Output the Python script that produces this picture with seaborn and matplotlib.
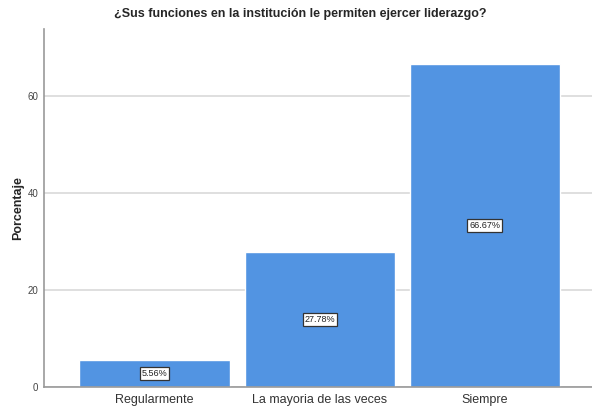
import numpy as np
import pandas as pd
from matplotlib import pyplot as plt
import seaborn as sns

categorias = ['Regularmente', 'La mayoria de las veces', 'Siempre']
porcentajes = [5.56, 27.78, 66.67]
etiquetas = ['5.56%', '27.78%', '66.67%']
yticks = [0, 20, 40, 60]

sns.set_style('white')
plt.rcParams['font.family'] = ['Liberation Sans', 'DejaVu Sans']

df = pd.DataFrame({'cat': categorias, 'pct': porcentajes})

fig = plt.figure(figsize=(5.92, 4.12), dpi=100)
ax = fig.add_axes([0.0743, 0.0607, 0.9257, 0.869])

sns.barplot(data=df, x='cat', y='pct', color='#5294E2', saturation=1,
            width=0.91, ax=ax, zorder=2)

for p, lab in zip(ax.patches, etiquetas):
    ax.text(p.get_x() + p.get_width() / 2, p.get_height() / 2, lab,
            ha='center', va='center', fontsize=6.5, color='#222222', zorder=3,
            bbox=dict(boxstyle='square,pad=0.2', fc='white', ec='#333333', lw=0.9))

ax.set_xlim(-0.67, 2.65)
ax.set_ylim(0, 73.8)
ax.set_yticks(yticks)
ax.yaxis.grid(True, color='#d9d9d9', lw=1.2, zorder=0)
ax.set_axisbelow(True)
ax.tick_params(axis='y', labelsize=7, colors='#444444', length=0, pad=4)
ax.tick_params(axis='x', labelsize=9, colors='#333333', length=0, pad=5)
ax.set_xlabel('')
ax.set_ylabel('Porcentaje', fontsize=9, fontweight='bold')
ax.yaxis.set_label_coords(-0.036, 0.5)
for s in ['top', 'right']:
    ax.spines[s].set_visible(False)
for s in ['left', 'bottom']:
    ax.spines[s].set_color('#999999')
    ax.spines[s].set_linewidth(1.2)

fig.text(0.507, 0.965, '¿Sus funciones en la institución le permiten ejercer liderazgo?',
         ha='center', va='center', fontsize=9, fontweight='bold')

fig.savefig('out.png', dpi=100)
